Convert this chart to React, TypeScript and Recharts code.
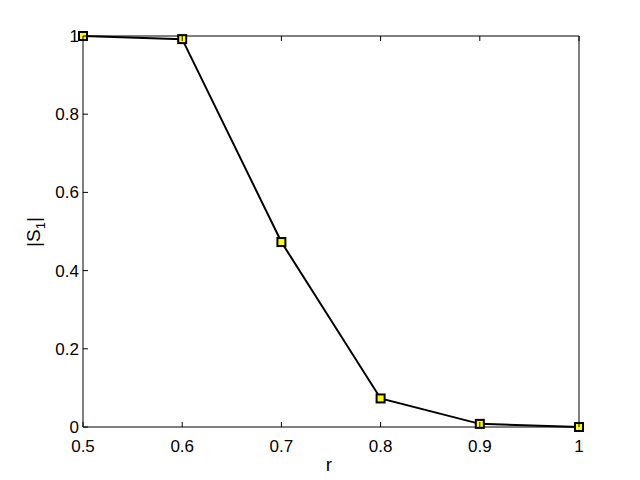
import React from 'react';
import { LineChart, Line, XAxis, YAxis } from 'recharts';

const rValues = [0.5, 0.6, 0.7, 0.8, 0.9, 1.0];
const s1Values = [1.0, 0.992, 0.473, 0.073, 0.008, 0.0];
const xTicks = [0.5, 0.6, 0.7, 0.8, 0.9, 1];
const yTicks = [0, 0.2, 0.4, 0.6, 0.8, 1];

const data = rValues.map((r, i) => ({ r, s1: s1Values[i] }));

const FONT = 'Liberation Sans, Arial, sans-serif';
const TICK_LEN = 5;

const fmt = (v: number) => (v === 0 || v === 1 ? String(v) : v.toFixed(1));

// ticks are drawn inside the box, MATLAB style
const BottomTick = (props: any) => {
  const { x, y, payload } = props;
  return (
    <g>
      <line x1={x} y1={y} x2={x} y2={y - TICK_LEN} stroke="#000" />
      <text x={x} y={y + 25} textAnchor="middle" fontSize={17} fontFamily={FONT} fill="#000">
        {fmt(payload.value)}
      </text>
    </g>
  );
};

const TopTick = (props: any) => {
  const { x, y } = props;
  return <line x1={x} y1={y} x2={x} y2={y + TICK_LEN} stroke="#000" />;
};

const LeftTick = (props: any) => {
  const { x, y, payload } = props;
  return (
    <g>
      <line x1={x} y1={y} x2={x + TICK_LEN} y2={y} stroke="#000" />
      <text x={x - 4} y={y + 6} textAnchor="end" fontSize={17} fontFamily={FONT} fill="#000">
        {fmt(payload.value)}
      </text>
    </g>
  );
};

const RightTick = (props: any) => {
  const { x, y } = props;
  return <line x1={x} y1={y} x2={x - TICK_LEN} y2={y} stroke="#000" />;
};

const SquareDot = (props: any) => {
  const { cx, cy, index } = props;
  if (cx == null || cy == null) return null;
  return <rect key={index} x={cx - 4} y={cy - 4} width={8} height={8} fill="#ffff00" stroke="#000" strokeWidth={2} />;
};

export default function App() {
  return (
    <div style={{ position: 'absolute', left: 0, top: 0, width: 640, height: 480, background: '#fff' }}>
      <LineChart width={640} height={480} data={data} margin={{ top: 35, right: 60, bottom: 52, left: 82 }}>
        <XAxis
          xAxisId="bottom"
          dataKey="r"
          type="number"
          domain={[0.5, 1]}
          ticks={xTicks}
          height={1}
          tickSize={0}
          tickMargin={0}
          tickLine={false}
          axisLine={{ stroke: '#000' }}
          tick={<BottomTick />}
          interval={0}
        />
        <XAxis
          xAxisId="top"
          orientation="top"
          dataKey="r"
          type="number"
          domain={[0.5, 1]}
          ticks={xTicks}
          height={1}
          tickSize={0}
          tickMargin={0}
          tickLine={false}
          axisLine={{ stroke: '#000' }}
          tick={<TopTick />}
          interval={0}
        />
        <YAxis
          yAxisId="left"
          type="number"
          domain={[0, 1]}
          ticks={yTicks}
          width={1}
          tickSize={0}
          tickMargin={0}
          tickLine={false}
          axisLine={{ stroke: '#000' }}
          tick={<LeftTick />}
          interval={0}
        />
        <YAxis
          yAxisId="right"
          orientation="right"
          type="number"
          domain={[0, 1]}
          ticks={yTicks}
          width={1}
          tickSize={0}
          tickMargin={0}
          tickLine={false}
          axisLine={{ stroke: '#000' }}
          tick={<RightTick />}
          interval={0}
        />
        <Line
          xAxisId="bottom"
          yAxisId="left"
          type="linear"
          dataKey="s1"
          stroke="#000"
          strokeWidth={2}
          dot={<SquareDot />}
          activeDot={false}
          isAnimationActive={false}
        />
        <text x={329} y={471} textAnchor="middle" fontSize={19} fontFamily={FONT} fill="#000">
          r
        </text>
        <text
          x={40}
          y={232}
          textAnchor="middle"
          fontSize={19}
          fontFamily={FONT}
          fill="#000"
          transform="rotate(-90 40 232)"
        >
          |S
          <tspan fontSize={13} dy={5}>1</tspan>
          <tspan dy={-5}>|</tspan>
        </text>
      </LineChart>
    </div>
  );
}
